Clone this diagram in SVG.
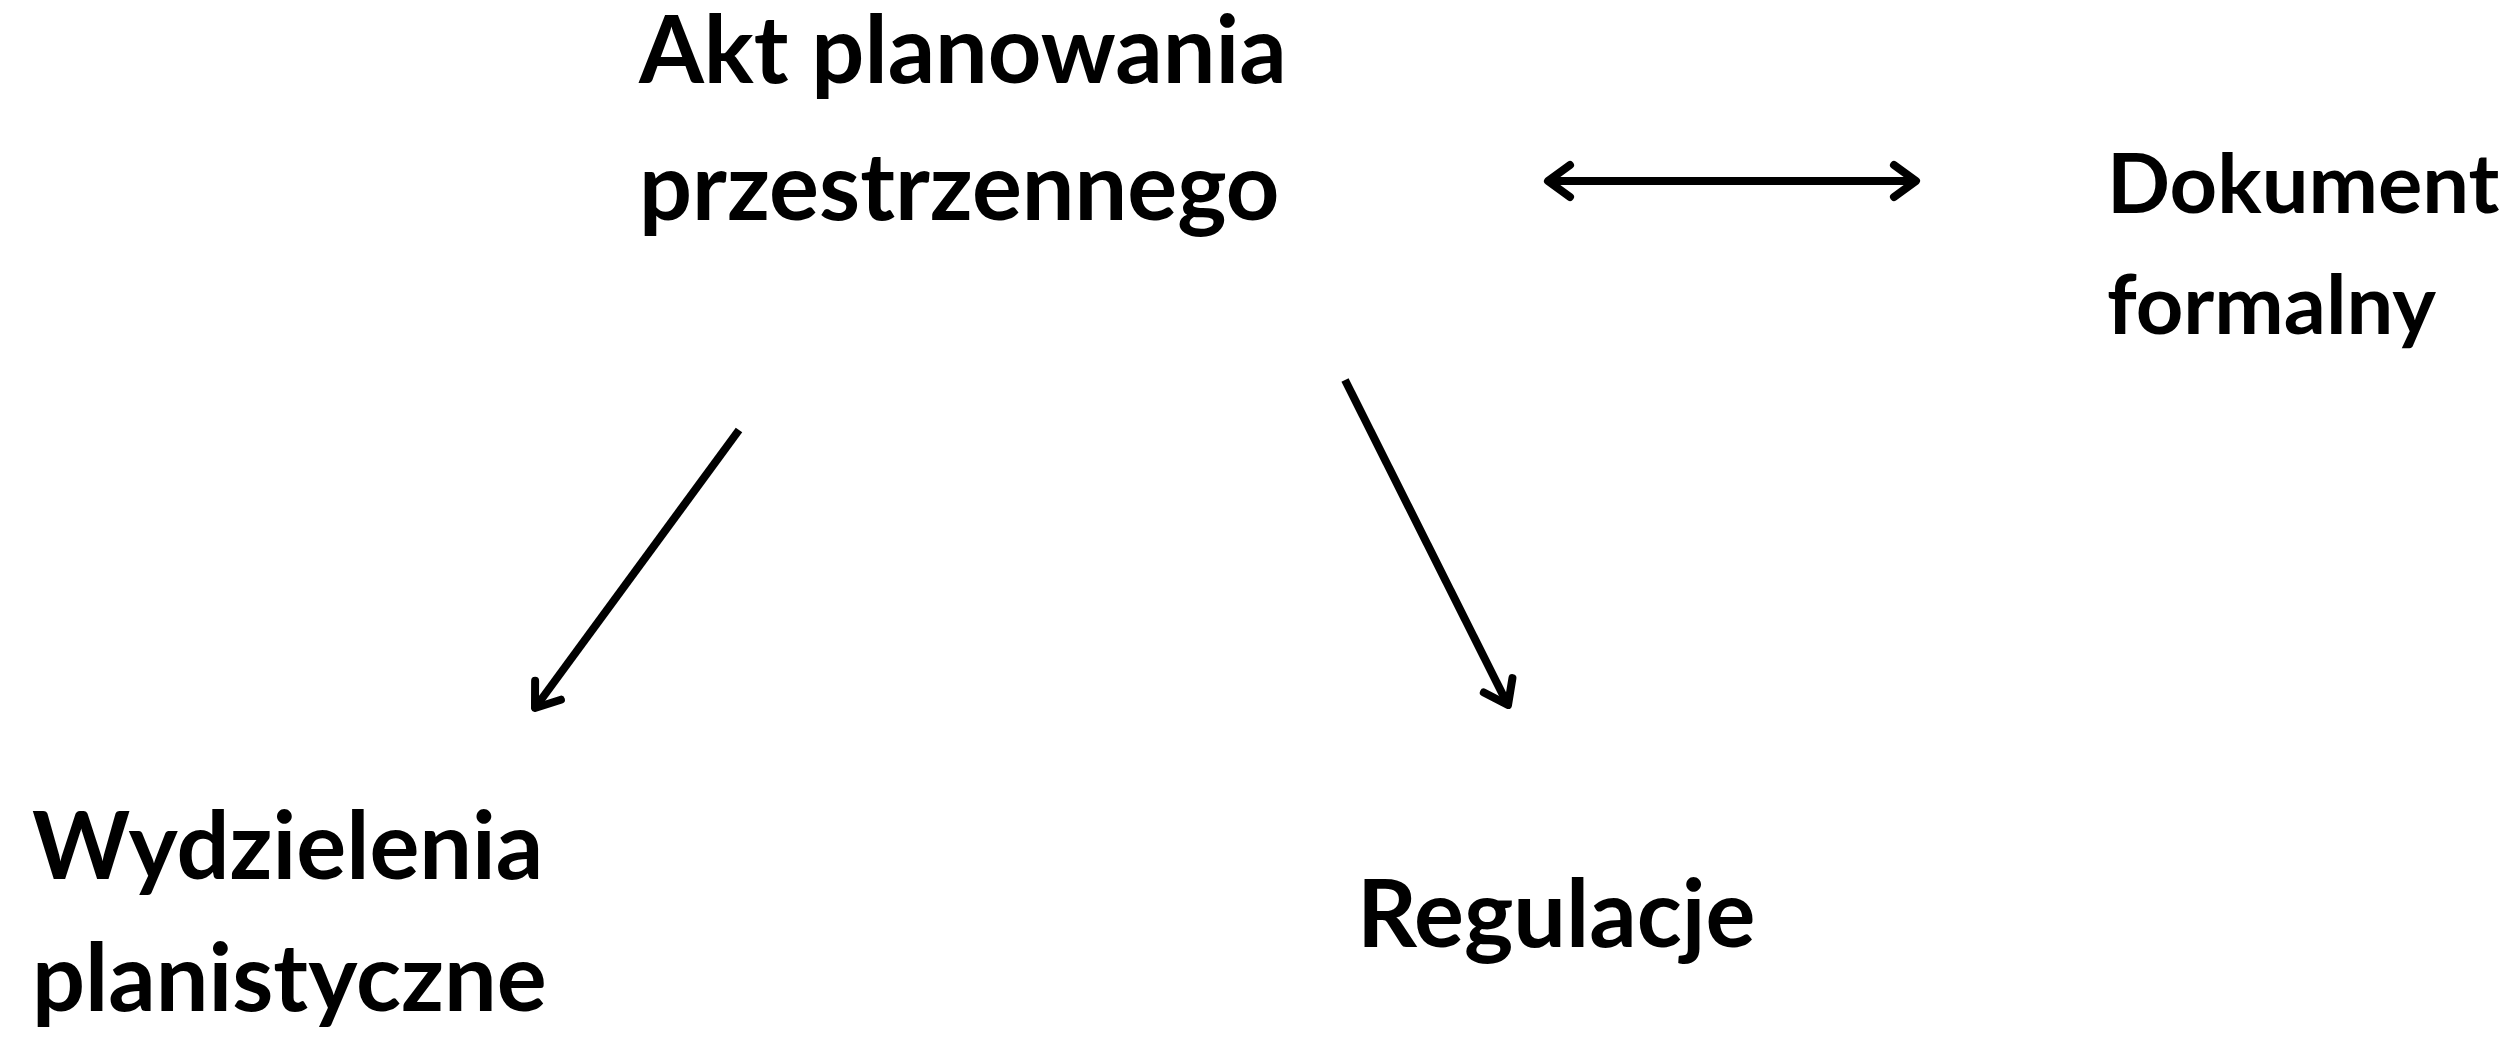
<svg xmlns="http://www.w3.org/2000/svg" width="2516" height="1037" viewBox="0 0 2516 1037">
<style>
.t{font-family:Lato,"Open Sans","Liberation Sans",sans-serif;font-weight:700;font-size:93.5px;fill:#000}
.s{font-size:83px}
.c{fill:none;stroke:#000;stroke-width:8}
</style>
<defs>
<marker id="ah" viewBox="-34 -26 42 52" markerUnits="userSpaceOnUse" markerWidth="42" markerHeight="52" refX="0" refY="0" orient="auto-start-reverse">
<path d="M-22,-16 L0,0 L-22,16" fill="none" stroke="#000" stroke-width="8" stroke-linecap="round" stroke-linejoin="round"/>
</marker>
</defs>
<rect width="2516" height="1037" fill="#fff"/>
<g id="connectors">
<path class="c" d="M1548,181 L1916,181" marker-start="url(#ah)" marker-end="url(#ah)"/>
<path class="c" d="M739,430 L535,708" marker-end="url(#ah)"/>
<path class="c" d="M1345,380 L1508,705" marker-end="url(#ah)"/>
</g>
<g id="node-akt">
<text class="t" x="639" y="83">Akt planowania</text>
<text class="t" x="639" y="220">przestrzennego</text>
</g>
<g id="node-dokument">
<text class="t s" x="2107" y="213">Dokument</text>
<text class="t s" x="2107" y="334">formalny</text>
</g>
<g id="node-wydzielenia">
<text class="t" x="32" y="879">Wydzielenia</text>
<text class="t" x="32" y="1011">planistyczne</text>
</g>
<g id="node-regulacje">
<text class="t" x="1357" y="947">Regulacje</text>
</g>
</svg>
